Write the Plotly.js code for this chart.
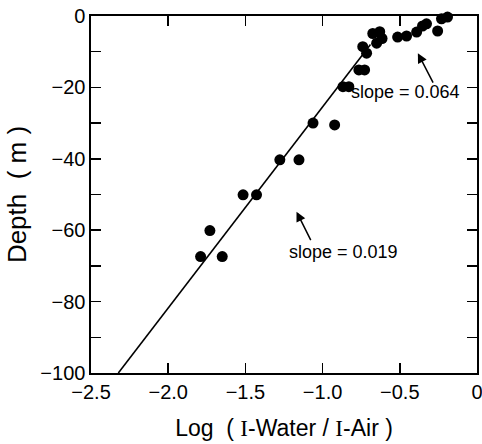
<!DOCTYPE html>
<html>
<head>
<meta charset="utf-8">
<script src="https://cdn.plot.ly/plotly-3.0.1.min.js"></script>
<style>html,body{margin:0;padding:0;background:#fff;}#chart{width:482px;height:444px;}</style>
</head>
<body>
<div id="chart"></div>
<script>
// Measured points: log(I-water / I-air) vs depth (m)
const logRatio = [-0.146, -0.191, -0.23, -0.255, -0.327, -0.353, -0.391, -0.456, -0.514,
  -0.63, -0.675, -0.615, -0.65, -0.74, -0.715, -0.765, -0.728, -0.868, -0.83,
  -1.062, -0.922, -1.277, -1.153, -1.515, -1.428, -1.73, -1.79, -1.65];
const depth = [0.3, -0.3, -0.8, -4.2, -2.2, -2.8, -4.5, -5.6, -5.9,
  -4.4, -4.9, -6.3, -7.6, -8.6, -10.4, -15.1, -15.1, -19.8, -19.8,
  -30.0, -30.5, -40.3, -40.3, -50.1, -50.1, -60.1, -67.4, -67.4];
// Fitted line (slope = 0.019)
const fitX = [-2.323, -0.69];
const fitY = [-100, -8];
// Tick labels
const xTickVals = [-2.5, -2.0, -1.5, -1.0, -0.5, 0];
const xTickText = ['\u22122.5', '\u22122.0', '\u22121.5', '\u22121.0', '\u22120.5', '0'];
const yTickVals = [0, -10, -20, -30, -40, -50, -60, -70, -80, -90, -100];
const yTickText = ['0', '', '\u221220', '', '\u221240', '', '\u221260', '', '\u221280', '', '\u2212100'];

const font = 'Liberation Sans, Arial, sans-serif';
const traces = [
  {x: fitX, y: fitY, mode: 'lines', line: {color: '#000', width: 1.6}, hoverinfo: 'skip'},
  {x: logRatio, y: depth, mode: 'markers', marker: {color: '#000', size: 11}, cliponaxis: false}
];
const axisCommon = {
  showgrid: false, zeroline: false, showline: true, linecolor: '#000', linewidth: 1.6,
  mirror: 'ticks', ticks: 'inside', ticklen: 10, tickwidth: 1.5, tickcolor: '#000',
  tickfont: {family: font, size: 20, color: '#000'}, ticklabeloverflow: 'allow'
};
const layout = {
  width: 482, height: 444,
  margin: {l: 91, r: 5, t: 16, b: 71},
  paper_bgcolor: '#fff', plot_bgcolor: '#fff',
  showlegend: false,
  xaxis: Object.assign({}, axisCommon, {
    range: [-2.5, 0], tickmode: 'array', tickvals: xTickVals, ticktext: xTickText,
    title: {text: 'Log&nbsp;&nbsp;( <span style="font-family:Liberation Serif">I</span>-Water / <span style="font-family:Liberation Serif">I</span>-Air )', font: {family: font, size: 23, color: '#000'}, standoff: 18}
  }),
  yaxis: Object.assign({}, axisCommon, {
    range: [-100, 0], tickmode: 'array', tickvals: yTickVals, ticktext: yTickText,
    title: {text: 'Depth&nbsp;&nbsp;( m )', font: {family: font, size: 26, color: '#000'}, standoff: 6}
  }),
  annotations: [
    {x: -0.462, y: -21.3, xref: 'x', yref: 'y', text: 'slope = 0.064', showarrow: false,
     font: {family: font, size: 18, color: '#000'}},
    {x: -0.864, y: -66.1, xref: 'x', yref: 'y', text: 'slope = 0.019', showarrow: false,
     font: {family: font, size: 18, color: '#000'}},
    {x: -0.383, y: -10.4, xref: 'x', yref: 'y', text: '', showarrow: true, ax: 16, ay: 31,
     arrowhead: 2, arrowsize: 1.3, arrowwidth: 1.5, arrowcolor: '#000', standoff: 0},
    {x: -1.169, y: -54.8, xref: 'x', yref: 'y', text: '', showarrow: true, ax: 15, ay: 30,
     arrowhead: 2, arrowsize: 1.3, arrowwidth: 1.5, arrowcolor: '#000', standoff: 0}
  ]
};
Plotly.newPlot('chart', traces, layout, {displayModeBar: false, staticPlot: true});
</script>
</body>
</html>
